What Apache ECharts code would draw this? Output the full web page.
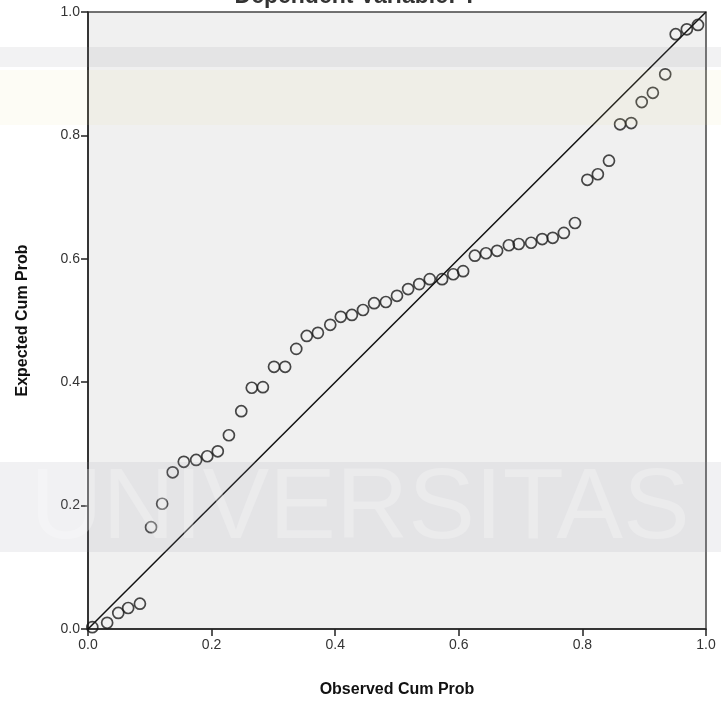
<!DOCTYPE html>
<html>
<head>
<meta charset="utf-8">
<script src="https://cdn.jsdelivr.net/npm/echarts@6/dist/echarts.min.js"></script>
<style>
html,body{margin:0;padding:0;background:#fff;}
#chart{width:721px;height:705px;}
</style>
</head>
<body>
<div id="chart"></div>
<script>
// Observed cumulative probability (x)
var observedCumProb = [0.007,0.031,0.049,0.065,0.084,0.102,0.120,0.137,0.155,0.175,0.193,0.210,0.228,0.248,0.265,0.283,0.301,0.319,0.337,0.354,0.372,0.392,0.409,0.427,0.445,0.463,0.482,0.500,0.518,0.536,0.553,0.573,0.591,0.607,0.626,0.644,0.662,0.681,0.697,0.717,0.735,0.752,0.770,0.788,0.808,0.825,0.843,0.861,0.879,0.896,0.914,0.934,0.951,0.969,0.987];
// Expected cumulative probability (y)
var expectedCumProb = [0.003,0.010,0.026,0.034,0.041,0.165,0.203,0.254,0.271,0.274,0.280,0.288,0.314,0.353,0.391,0.392,0.425,0.425,0.454,0.475,0.480,0.493,0.506,0.509,0.517,0.528,0.530,0.540,0.551,0.559,0.567,0.567,0.575,0.580,0.605,0.609,0.613,0.622,0.624,0.626,0.632,0.634,0.642,0.658,0.728,0.737,0.759,0.818,0.820,0.854,0.869,0.899,0.964,0.972,0.979];
var refLine = [[0,0],[1,1]];
var tickLabels = ['0.0','0.2','0.4','0.6','0.8','1.0'];
var titleText = 'Dependent Variable: Y';
var xTitle = 'Observed Cum Prob';
var yTitle = 'Expected Cum Prob';

var pts = observedCumProb.map(function(v,i){return [v, expectedCumProb[i]];});
var font = '"Liberation Sans", Arial, sans-serif';
var chart = echarts.init(document.getElementById('chart'), null, {renderer:'canvas'});
function fmt(v){ var i = Math.round(v*5); return tickLabels[i] !== undefined ? tickLabels[i] : ''; }
chart.setOption({
  animation:false,
  backgroundColor:'#ffffff',
  title:{text:titleText, left:351, textAlign:'center', top:-20,
    textStyle:{fontFamily:font, fontSize:23, fontWeight:'bold', color:'#333'}},
  grid:{left:88, right:15, top:12, bottom:76, show:true, backgroundColor:'#f0f0f0', borderColor:'#444', borderWidth:1.5},
  xAxis:{type:'value', min:0, max:1, interval:0.2,
    name:xTitle, nameLocation:'middle', nameGap:53,
    nameTextStyle:{fontFamily:font, fontSize:16, fontWeight:'bold', color:'#111'},
    axisLine:{show:true, lineStyle:{color:'#222', width:1.5}},
    axisTick:{show:true, inside:false, length:7, lineStyle:{color:'#222', width:1.5}},
    axisLabel:{formatter:fmt, fontFamily:font, fontSize:14, color:'#333', margin:9},
    splitLine:{show:false}},
  yAxis:{type:'value', min:0, max:1, interval:0.2,
    name:yTitle, nameLocation:'middle', nameGap:57, nameRotate:90,
    nameTextStyle:{fontFamily:font, fontSize:16, fontWeight:'bold', color:'#111'},
    axisLine:{show:true, lineStyle:{color:'#222', width:1.5}},
    axisTick:{show:true, inside:false, length:7, lineStyle:{color:'#222', width:1.5}},
    axisLabel:{formatter:fmt, fontFamily:font, fontSize:14, color:'#333', margin:8},
    splitLine:{show:false}},
  graphic:[
    {type:'rect', silent:true, z:100, shape:{x:0,y:47,width:721,height:20}, style:{fill:'rgba(150,150,160,0.12)'}},
    {type:'rect', silent:true, z:100, shape:{x:0,y:70,width:721,height:55}, style:{fill:'rgba(240,225,160,0.10)'}},
    {type:'rect', silent:true, z:100, shape:{x:0,y:462,width:721,height:90}, style:{fill:'rgba(150,150,165,0.13)'}},
    {type:'text', silent:true, z:101, style:{text:'UNIVERSITAS', x:360, y:510, textAlign:'center', textVerticalAlign:'middle',
      font:'100px "Liberation Sans", Arial, sans-serif', fill:'rgba(255,255,255,0.25)'}}
  ],
  series:[
    {type:'line', data:refLine, showSymbol:false, symbol:'none', lineStyle:{color:'#111', width:1.5}, z:2, silent:true},
    {type:'scatter', data:pts, symbol:'circle', symbolSize:11,
      itemStyle:{color:'rgba(0,0,0,0)', borderColor:'#1a1a1a', borderWidth:1.7}, z:3}
  ]
});
</script>
</body>
</html>
